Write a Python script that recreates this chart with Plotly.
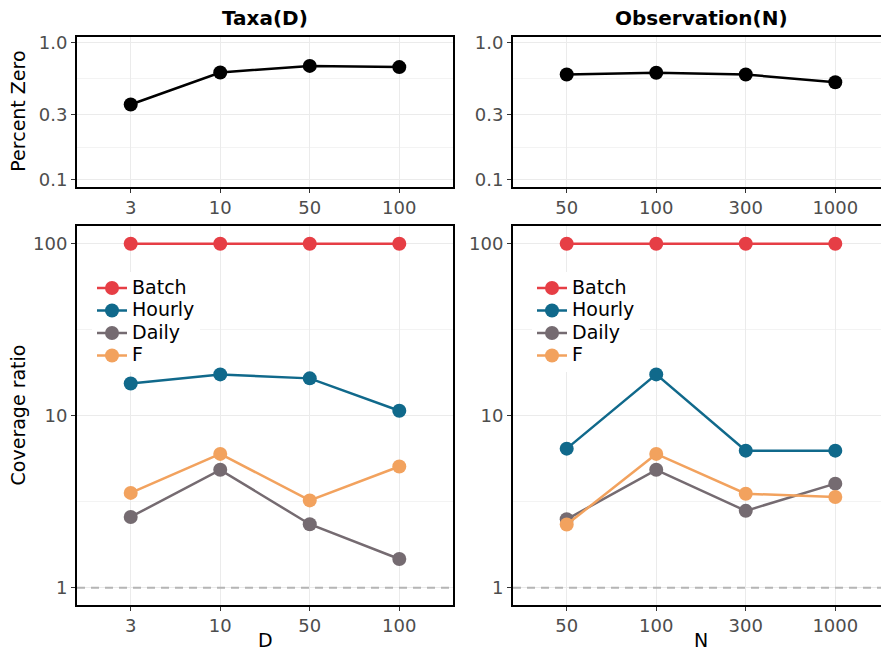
import plotly.graph_objects as go

W, H = 881, 655

# ---------------- data ----------------
taxa_labels = ["3", "10", "50", "100"]
obs_labels = ["50", "100", "300", "1000"]

pz_taxa = [0.353, 0.603, 0.673, 0.66]
pz_obs = [0.583, 0.60, 0.583, 0.512]

series_names = ["Batch", "Hourly", "Daily", "F"]
series_colors = ["#E63E45", "#10698B", "#756B71", "#F2A25E"]

cov_taxa = {
    "Batch": [100, 100, 100, 100],
    "Hourly": [15.4, 17.4, 16.5, 10.7],
    "Daily": [2.58, 4.85, 2.34, 1.47],
    "F": [3.56, 6.0, 3.22, 5.07],
}
cov_obs = {
    "Batch": [100, 100, 100, 100],
    "Hourly": [6.44, 17.4, 6.27, 6.27],
    "Daily": [2.50, 4.85, 2.80, 4.03],
    "F": [2.33, 6.0, 3.52, 3.37],
}

pz_ticks = [0.1, 0.3, 1.0]
pz_ticktext = ["0.1", "0.3", "1.0"]
cov_ticks = [1, 10, 100]
cov_ticktext = ["1", "10", "100"]

# ---------------- layout helpers ----------------
def xd(a, b):
    return [a / W, min(b / W, 1.0)]

def yd(top, bottom):
    return [1 - bottom / H, 1 - top / H]

FONT = "DejaVu Sans"
TICKC = "#4D4D4D"
GRID = "#EBEBEB"
TICKSIZE = 18
LEG_TEXT = 19

fig = go.Figure()

# top panels
fig.add_trace(go.Scatter(x=taxa_labels, y=pz_taxa, mode="lines+markers",
                         line=dict(color="black", width=2.5),
                         marker=dict(color="black", size=14),
                         showlegend=False, xaxis="x", yaxis="y"))
fig.add_trace(go.Scatter(x=obs_labels, y=pz_obs, mode="lines+markers",
                         line=dict(color="black", width=2.5),
                         marker=dict(color="black", size=14),
                         showlegend=False, xaxis="x2", yaxis="y2"))

def leg_name(n):
    return f'<span style="font-size:{LEG_TEXT}px">{n}</span>'

# bottom panels
for name, col in zip(series_names, series_colors):
    fig.add_trace(go.Scatter(x=taxa_labels, y=cov_taxa[name], mode="lines+markers",
                             name=leg_name(name), line=dict(color=col, width=2.5),
                             marker=dict(color=col, size=14),
                             legend="legend", xaxis="x3", yaxis="y3"))
for name, col in zip(series_names, series_colors):
    fig.add_trace(go.Scatter(x=obs_labels, y=cov_obs[name], mode="lines+markers",
                             name=leg_name(name), line=dict(color=col, width=2.5),
                             marker=dict(color=col, size=14),
                             legend="legend2", xaxis="x4", yaxis="y4"))

common_x = dict(type="category", showline=True, linecolor="black", linewidth=2,
                ticks="outside", ticklen=4, tickcolor="#333333",
                tickfont=dict(family=FONT, size=TICKSIZE, color=TICKC),
                showgrid=True, gridcolor=GRID, gridwidth=1.2, zeroline=False)
common_y = dict(type="log", showline=True, linecolor="black", linewidth=2,
                ticks="outside", ticklen=4, tickcolor="#333333",
                tickfont=dict(family=FONT, size=TICKSIZE, color=TICKC),
                showgrid=True, gridcolor=GRID, gridwidth=1.2, zeroline=False)

TOP = (32, 184)
BOT = (224, 607)
LEFT = (77, 453)
RIGHT = (513, 881)
pxu = (LEFT[1] - LEFT[0]) / 4.2
right_range = [-0.6, -0.6 + (RIGHT[1] - RIGHT[0]) / pxu]

minor_top = dict(tickvals=[0.1732, 0.548], showgrid=True, gridcolor="#F3F3F3",
                 gridwidth=1, ticklen=0)
minor_bot = dict(tickvals=[3.162, 31.62], showgrid=True, gridcolor="#F3F3F3",
                 gridwidth=1, ticklen=0)

legend_common = dict(xanchor="left", yanchor="top", bgcolor="white", borderwidth=0,
                     itemwidth=30, font=dict(family=FONT, size=15, color="black"),
                     tracegroupgap=0)

fig.update_layout(
    width=W, height=H, margin=dict(l=0, r=0, t=0, b=0),
    paper_bgcolor="white", plot_bgcolor="white",
    font=dict(family=FONT, color="black"),
    xaxis=dict(common_x, domain=xd(*LEFT), anchor="y", range=[-0.6, 3.6], mirror=True,
               categoryorder="array", categoryarray=taxa_labels),
    yaxis=dict(common_y, domain=yd(*TOP), anchor="x", range=[-1.05, 0.041], mirror=True,
               tickvals=pz_ticks, ticktext=pz_ticktext, minor=minor_top),
    xaxis2=dict(common_x, domain=xd(*RIGHT), anchor="y2", range=right_range, mirror=True,
                categoryorder="array", categoryarray=obs_labels),
    yaxis2=dict(common_y, domain=yd(*TOP), anchor="x2", range=[-1.05, 0.041],
                tickvals=pz_ticks, ticktext=pz_ticktext, minor=minor_top),
    xaxis3=dict(common_x, domain=xd(*LEFT), anchor="y3", range=[-0.6, 3.6], mirror=True,
                categoryorder="array", categoryarray=taxa_labels),
    yaxis3=dict(common_y, domain=yd(*BOT), anchor="x3", range=[-0.098, 2.102], mirror=True,
                tickvals=cov_ticks, ticktext=cov_ticktext, minor=minor_bot),
    xaxis4=dict(common_x, domain=xd(*RIGHT), anchor="y4", range=right_range, mirror=True,
                categoryorder="array", categoryarray=obs_labels),
    yaxis4=dict(common_y, domain=yd(*BOT), anchor="x4", range=[-0.098, 2.102],
                tickvals=cov_ticks, ticktext=cov_ticktext, minor=minor_bot),
    legend=dict(legend_common, x=92 / W, y=1 - 270 / H),
    legend2=dict(legend_common, x=532 / W, y=1 - 270 / H),
)

# dashed reference line at 1
for xa, ya in [("x3", "y3"), ("x4", "y4")]:
    fig.add_shape(type="line", xref=f"{xa} domain", yref=ya, x0=0, x1=1, y0=1, y1=1,
                  line=dict(color="#B5B5B5", width=2, dash="8px,6px"), layer="above")

# titles and axis labels
ann = [
    dict(text="<b>Taxa(D)</b>", x=265 / W, y=1 - 13 / H, size=20),
    dict(text="<b>Observation(N)</b>", x=701 / W, y=1 - 13 / H, size=20),
    dict(text="D", x=265 / W, y=1 - 643 / H, size=19),
    dict(text="N", x=701 / W, y=1 - 643 / H, size=19),
]
for a in ann:
    fig.add_annotation(text=a["text"], x=a["x"], y=a["y"], xref="paper", yref="paper",
                       showarrow=False, xanchor="center", yanchor="middle",
                       font=dict(family=FONT, size=a["size"], color="black"))
for txt, yc in [("Percent Zero", 108), ("Coverage ratio", 415.5)]:
    fig.add_annotation(text=txt, x=18 / W, y=1 - yc / H, xref="paper", yref="paper",
                       showarrow=False, textangle=-90, xanchor="center", yanchor="middle",
                       font=dict(family=FONT, size=19, color="black"))

fig.write_html("out.html")
